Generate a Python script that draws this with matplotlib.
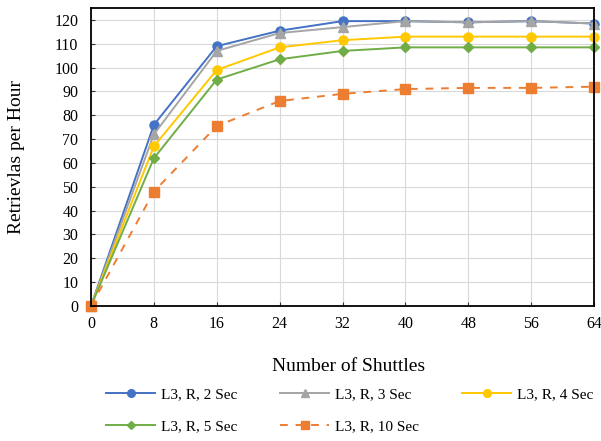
import matplotlib
matplotlib.use("Agg")
import matplotlib.pyplot as plt

# ---------------------------------------------------------------------------
# Data
# ---------------------------------------------------------------------------
shuttles = [0, 8, 16, 24, 32, 40, 48, 56, 64]

rate_2s = [0, 76, 109, 115.5, 119.5, 119.5, 119, 119.5, 118.5]
rate_3s = [0, 72, 107, 114.5, 117, 119.5, 119, 119.5, 118.5]
rate_4s = [0, 67, 99, 108.5, 111.5, 113, 113, 113, 113]
rate_5s = [0, 62, 95, 103.5, 107, 108.5, 108.5, 108.5, 108.5]
rate_10s = [0, 48, 75.5, 86, 89, 91, 91.5, 91.5, 92]

y_ticks = list(range(0, 121, 10))

plt.rcParams["font.family"] = ["Liberation Serif", "DejaVu Serif"]

fig = plt.figure(figsize=(6.01, 4.41), dpi=100)
ax = fig.add_axes([0.1514, 0.3061, 0.837, 0.6757])

series = [
    (rate_2s, "L3, R, 2 Sec", "#4472C4", "o", "-"),
    (rate_3s, "L3, R, 3 Sec", "#A5A5A5", "^", "-"),
    (rate_4s, "L3, R, 4 Sec", "#FFC800", "o", "-"),
    (rate_5s, "L3, R, 5 Sec", "#70AD47", "D", "-"),
    (rate_10s, "L3, R, 10 Sec", "#ED7D31", "s", "--"),
]

handles = []
for values, label, color, marker, ls in series:
    ms = 5 if marker == "D" else 6.5
    (h,) = ax.plot(shuttles, values, color=color, linestyle=ls, linewidth=1.4,
                   marker=marker, markersize=ms, label=label, clip_on=False,
                   dashes=(4, 4) if ls == "--" else (None, None))
    handles.append(h)

ax.set_xlim(0, 64)
ax.set_ylim(0, 125)
ax.set_xticks(shuttles)
ax.set_yticks(y_ticks)
ax.grid(True, color="#D9D9D9", linewidth=0.8)
ax.set_axisbelow(True)
for sp in ax.spines.values():
    sp.set_color("black")
    sp.set_linewidth(1.3)
ax.tick_params(labelsize=11.5, length=3, direction="in", color="#333333")
ax.tick_params(axis="y", pad=9)
ax.tick_params(axis="x", pad=7)

ax.set_xlabel("Number of Shuttles", fontsize=14)
ax.xaxis.set_label_coords(0.512, -0.174)
ax.set_ylabel("Retrievlas per Hour", fontsize=14)
ax.yaxis.set_label_coords(-0.131, 0.5)

# row-wise ordering for a 3-column legend
order = [0, 3, 1, 4, 2]
fig.legend([handles[i] for i in order], [series[i][1] for i in order],
           loc="center", bbox_to_anchor=(0.582, 0.069), ncol=3,
           frameon=False, fontsize=11, handlelength=3.2, handletextpad=0.4,
           columnspacing=2.8, labelspacing=1.2, markerscale=0.85)

fig.savefig("out.png", dpi=100)
